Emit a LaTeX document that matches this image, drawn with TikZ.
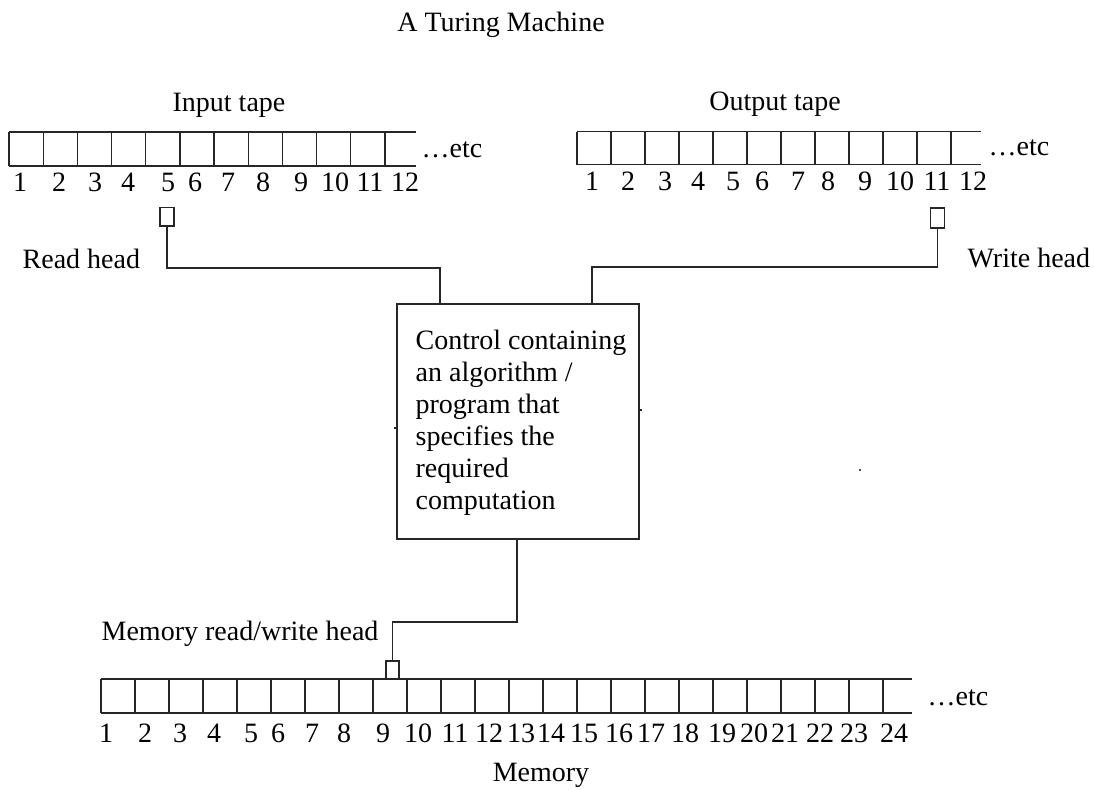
\documentclass[tikz,border=0pt]{standalone}
\usepackage{fontspec}
\setmainfont{Liberation Serif}
\usetikzlibrary{calc}
\begin{document}
\begin{tikzpicture}[x=0.75pt,y=-0.75pt, line width=1pt, draw=black!85,
  lbl/.style={anchor=base, inner sep=0pt, font=\fontsize{21}{24}\selectfont},
  headbox/.style={draw=black!85, rectangle, minimum width=10.5pt, minimum height=14pt, inner sep=0pt, line width=1pt},
  cell/.style={rectangle, minimum width=25.6pt, minimum height=25.5pt, inner sep=0pt, outer sep=0pt},
  ctrlbox/.style={draw=black!85, rectangle, minimum width=181.5pt, minimum height=176.25pt, inner sep=0pt, line width=1pt},
  wire/.style={draw=black!85, line width=1pt}]
\useasboundingbox (0,0) rectangle (1095,789);

% title
\node[lbl] (title) at (501,31) {A Turing Machine};

% input tape
\node[lbl] (inlbl) at (229,111) {Input tape};
\foreach \i in {1,...,12} {
  \node[cell] (in\i) at ({9+34.18*(\i-0.5)},149) {};
  \draw[wire] (in\i.north west) -- (in\i.south west);
}
\draw[wire] (in1.north west) -- ($(in12.north west)+(31,0)$);
\draw[wire] (in1.south west) -- ($(in12.south west)+(31,0)$);
\node[lbl, anchor=base west] (inetc) at (421,157) {…etc};
\foreach \i/\x in {1/20,2/59,3/95,4/128,5/168,6/195,7/228,8/263,9/301,10/335,11/370,12/405} {
  \node[lbl] (inn\i) at (\x,191) {\i};
}

% output tape
\node[lbl] (outlbl) at (775,110) {Output tape};
\foreach \i in {1,...,12} {
  \node[cell, minimum height=24.75pt] (out\i) at ({577+34*(\i-0.5)},148) {};
  \draw[wire] (out\i.north west) -- (out\i.south west);
}
\draw[wire] (out1.north west) -- ($(out12.north west)+(30,0)$);
\draw[wire] (out1.south west) -- ($(out12.south west)+(30,0)$);
\node[lbl, anchor=base west] (outetc) at (988,155) {…etc};
\foreach \i/\x in {1/592,2/628,3/665,4/698,5/733,6/762,7/798,8/828,9/865,10/900,11/937,12/973} {
  \node[lbl] (outn\i) at (\x,190) {\i};
}

% heads
\node[headbox] (rh) at (167,216.5) {};
\node[lbl, anchor=base west] (rhlbl) at (22,268) {Read head};
\node[headbox, minimum height=15pt] (wh) at (937.5,218) {};
\node[lbl, anchor=base west] (whlbl) at (967,267) {Write head};

% control
\node[ctrlbox] (ctrl) at (518,421.5) {};
\node[anchor=north west, inner sep=0pt, align=left, font=\fontsize{21}{23.9}\selectfont] (ctrltxt) at (415,327)
  {\strut Control containing\\an algorithm /\\program that\\specifies the\\required\\computation};
\draw[wire] (ctrl.west |- 0,428) -- ++(-2,0);
\draw[wire] (ctrl.east |- 0,410) -- ++(2,0);
\fill[black!70] (858.5,469) rectangle (860.5,471);

\coordinate (rhj) at (440,268);
\coordinate (whj) at (592,267);
\draw[wire] (rh.south) |- (rhj) -- (rhj |- ctrl.north);
\draw[wire] (wh.south) |- (whj) -- (whj |- ctrl.north);

% memory
\node[lbl, anchor=base west] (mhlbl) at (101,640) {Memory read/write head};
\foreach \i in {1,...,24} {
  \node[cell] (m\i) at ({101+34*(\i-0.5)},696) {};
  \draw[wire] (m\i.north west) -- (m\i.south west);
}
\draw[wire] (m1.north west) -- ($(m24.north west)+(29,0)$);
\draw[wire] (m1.south west) -- ($(m24.south west)+(29,0)$);
\node[lbl, anchor=base west] (metc) at (927,705) {…etc};
\node[headbox, minimum width=9.75pt, minimum height=13.5pt] (mh) at (392.5,670) {};
\coordinate (mhj) at (517,622);
\draw[wire] (mh.north) |- (mhj) -- (mhj |- ctrl.south);
\foreach \i/\x in {1/106,2/145,3/180,4/214,5/251,6/278,7/312,8/344,9/383,10/418,11/455,12/489,13/521,14/551,15/584,16/619,17/651,18/685,19/722,20/754,21/785,22/820,23/854,24/894} {
  \node[lbl] (mn\i) at (\x,742) {\i};
}
\node[lbl] (memlbl) at (541,781) {Memory};
\end{tikzpicture}
\end{document}
